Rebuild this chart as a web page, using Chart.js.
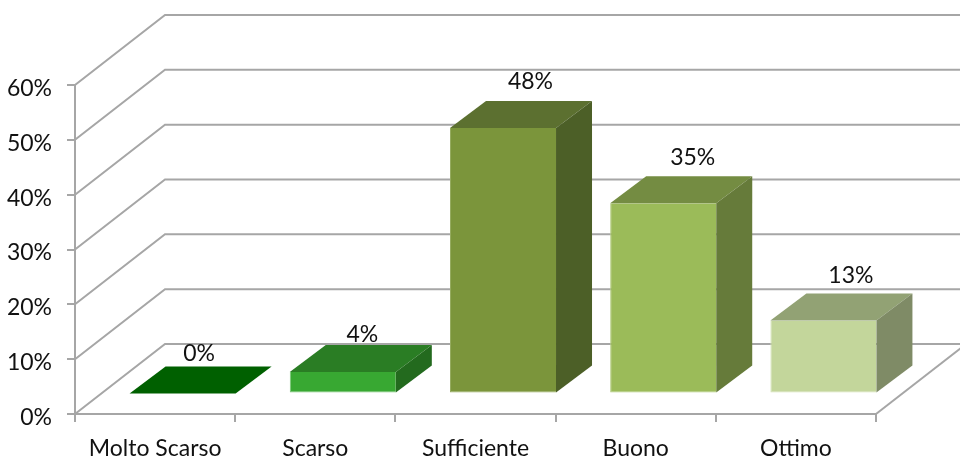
<!DOCTYPE html>
<html>
<head>
<meta charset="utf-8">
<style>html,body{margin:0;padding:0;background:#fff}canvas{display:block}</style>
<script src="https://cdn.jsdelivr.net/npm/chart.js@4/dist/chart.umd.min.js"></script>
</head>
<body>
<canvas id="c" width="960" height="461" style="width:960px;height:461px"></canvas>
<script>
const categories = ["Molto Scarso", "Scarso", "Sufficiente", "Buono", "Ottimo"];
const values = [0, 3.9, 48.4, 34.7, 13.3];
const yTicks = [0, 10, 20, 30, 40, 50, 60];
const frontColors = ["#006000", "#38a832", "#7b953b", "#9bbb59", "#c3d69b"];
const edgeColors = ["#7fae7f", "#7cc878", "#97ac62", "#b0cb7c", "#d3e2b5"];
const topColors = ["#006000", "#2a7d24", "#5c7030", "#748c42", "#92a274"];
const sideColors = ["#005000", "#236a1e", "#4c5f27", "#667b3a", "#7f8b66"];
const labelNudgeX = [-11, -8, 0, 2, 0];
const labelGap = [14, 12, 21, 19.5, 18.5];

const FONT = "Lato, 'Open Sans', sans-serif";
const FONT_SIZE = 23;
const TEXT = "#111111";
const GRID = "#a6a6a6";
const WALL = {dx: 90, dy: 70};
const BAR_SHIFT = {dx: 27.5, dy: 20.5};
const BAR_DEPTH = {dx: 36, dy: 27};

function poly(ctx, pts, fill) {
  ctx.beginPath();
  pts.forEach((p, i) => i ? ctx.lineTo(p[0], p[1]) : ctx.moveTo(p[0], p[1]));
  ctx.closePath();
  ctx.fillStyle = fill;
  ctx.fill();
}

const walls = {
  id: "walls",
  beforeDatasetsDraw(chart) {
    const {ctx, scales: {y}, chartArea: a} = chart;
    ctx.save();
    ctx.strokeStyle = GRID;
    ctx.lineWidth = 2;
    yTicks.forEach(v => {
      const py = y.getPixelForValue(v);
      ctx.beginPath();
      ctx.moveTo(a.left, py);
      ctx.lineTo(a.left + WALL.dx, py - WALL.dy);
      ctx.lineTo(chart.width, py - WALL.dy);
      ctx.stroke();
    });
    ctx.beginPath();
    ctx.moveTo(a.right, a.bottom);
    ctx.lineTo(a.right + WALL.dx, a.bottom - WALL.dy);
    ctx.stroke();
    ctx.restore();
  },
  beforeDatasetDraw(chart) {
    chart.ctx.save();
    chart.ctx.translate(BAR_SHIFT.dx, -BAR_SHIFT.dy);
  },
  afterDatasetDraw(chart, args) {
    const ctx = chart.ctx;
    args.meta.data.forEach((el, i) => {
      const {x, y, width, base} = el.getProps(["x", "y", "width", "base"], true);
      const l = x - width / 2, r = x + width / 2;
      const d = BAR_DEPTH;
      poly(ctx, [[l, y], [l + d.dx, y - d.dy], [r + d.dx, y - d.dy], [r, y]], topColors[i]);
      if (base - y > 0.5) {
        poly(ctx, [[r, y], [r + d.dx, y - d.dy], [r + d.dx, base - d.dy], [r, base]], sideColors[i]);
      }
      ctx.fillStyle = TEXT;
      ctx.font = FONT_SIZE + "px " + FONT;
      ctx.textAlign = "center";
      ctx.textBaseline = "middle";
      ctx.fillText(Math.round(values[i]) + "%", x + 27.5 + labelNudgeX[i], y - d.dy - labelGap[i] + 1);
    });
    ctx.restore();
  }
};

new Chart(document.getElementById("c"), {
  type: "bar",
  data: {
    labels: categories,
    datasets: [{
      data: values,
      backgroundColor: frontColors,
      borderColor: edgeColors,
      borderWidth: {left: 1, bottom: 1, top: 0, right: 0},
      borderSkipped: false,
      clip: false,
      categoryPercentage: 1,
      barPercentage: 0.662
    }]
  },
  plugins: [walls],
  options: {
    responsive: false,
    animation: false,
    events: [],
    layout: {padding: {left: 0, right: 84, top: 85, bottom: 0}},
    plugins: {legend: {display: false}, tooltip: {enabled: false}, title: {display: false}},
    scales: {
      x: {
        type: "category",
        offset: true,
        afterFit(s) { s.height = 47; },
        grid: {display: true, drawOnChartArea: false, drawTicks: true, tickLength: 8, color: GRID, lineWidth: 2, offset: true},
        border: {display: true, color: GRID, width: 2},
        ticks: {color: TEXT, font: {family: FONT, size: FONT_SIZE}, padding: 13, maxRotation: 0, autoSkip: false}
      },
      y: {
        min: 0,
        max: 60,
        afterFit(s) { s.width = 75; },
        grid: {display: true, drawOnChartArea: false, drawTicks: true, tickLength: 8, color: GRID, lineWidth: 2},
        border: {display: true, color: GRID, width: 2},
        afterBuildTicks(s) { s.ticks = yTicks.map(v => ({value: v})); },
        ticks: {color: TEXT, font: {family: FONT, size: FONT_SIZE, lineHeight: "7px"}, padding: 15, callback: v => ["", v + "%"]}
      }
    }
  }
});
</script>
</body>
</html>
